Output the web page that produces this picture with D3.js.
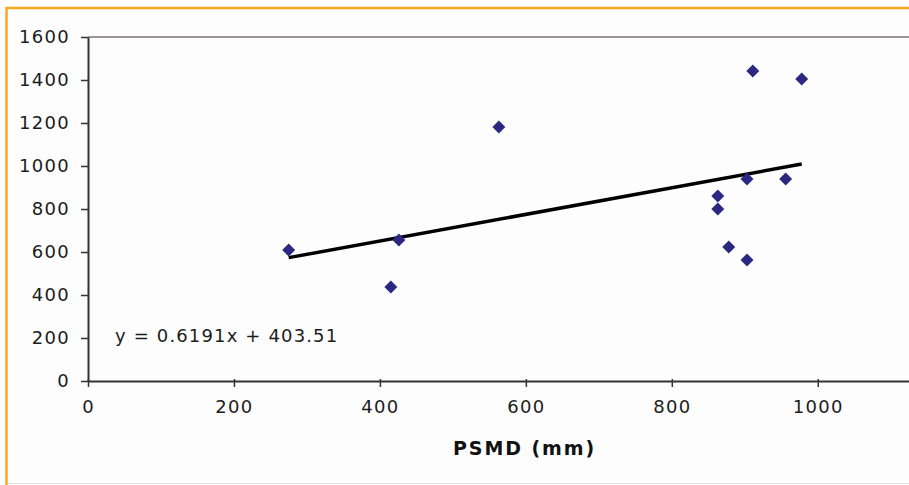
<!DOCTYPE html>
<html>
  <head>
    <meta charset="utf-8">
    <title>PSMD scatter</title>
    <script src="https://d3js.org/d3.v7.min.js"></script>
    <style>
      body { margin: 0; background: #fff; }
      svg { display: block; }
      .tick text { font-family: "DejaVu Sans", sans-serif; font-size: 18px; letter-spacing: 1.3px; fill: #1c1c1c; }
    </style>
  </head>
  <body>
    <svg id="chart" width="909" height="485"></svg>
    <script>
      // data
      var psmd = [275, 426, 415, 563, 911, 978, 903, 956, 863, 863, 878, 903];
      var yield_ = [609, 656, 437, 1181, 1442, 1405, 940, 940, 860, 800, 623, 563];
      var xTicks = [0, 200, 400, 600, 800, 1000];
      var yTicks = [0, 200, 400, 600, 800, 1000, 1200, 1400, 1600];
      var slope = 0.6191, intercept = 403.51;
      var equation = "y = 0.6191x + 403.51";
      var xLabel = "PSMD (mm)";

      var svg = d3.select("#chart");
      var plotLeft = 88, plotTop = 37, plotBottom = 381, plotRight = 909;

      // frame
      svg.append("rect")
        .attr("x", 7).attr("y", 8).attr("width", 920).attr("height", 475)
        .attr("fill", "#fdfdfd").attr("stroke", "none");
      svg.append("line")
        .attr("x1", 6.5).attr("x2", 6.5).attr("y1", 7).attr("y2", 485)
        .attr("stroke", "#f7a823").attr("stroke-width", 2.5);
      svg.append("line")
        .attr("x1", 6).attr("x2", 909).attr("y1", 8).attr("y2", 8)
        .attr("stroke", "#f7a823").attr("stroke-width", 2.5);
      svg.append("line")
        .attr("x1", 8).attr("x2", 909).attr("y1", 483.5).attr("y2", 483.5)
        .attr("stroke", "#e4e4e4").attr("stroke-width", 1);

      var x = d3.scaleLinear().domain([0, 1125]).range([plotLeft, plotRight]);
      var y = d3.scaleLinear().domain([0, 1600]).range([plotBottom, plotTop]);

      // top gridline
      svg.append("line")
        .attr("x1", plotLeft).attr("x2", plotRight)
        .attr("y1", y(1600)).attr("y2", y(1600))
        .attr("stroke", "#9a9696").attr("stroke-width", 2);

      var xAxis = svg.append("g")
        .attr("transform", "translate(0," + plotBottom + ")")
        .call(d3.axisBottom(x).tickValues(xTicks).tickFormat(d3.format("d"))
          .tickSize(6).tickPadding(13).tickSizeOuter(0));
      xAxis.select(".domain").attr("stroke", "#333").attr("stroke-width", 2);
      xAxis.selectAll(".tick line").attr("stroke", "#333").attr("stroke-width", 1.5).attr("y1", -2);

      var yAxis = svg.append("g")
        .attr("transform", "translate(" + plotLeft + ",0)")
        .call(d3.axisLeft(y).tickValues(yTicks).tickFormat(d3.format("d"))
          .tickSize(7).tickPadding(11).tickSizeOuter(0));
      yAxis.select(".domain").attr("stroke", "#333").attr("stroke-width", 2);
      yAxis.selectAll(".tick line").attr("stroke", "#333").attr("stroke-width", 1.5);

      // trendline
      var xMin = d3.min(psmd), xMax = d3.max(psmd);
      svg.append("line")
        .attr("x1", x(xMin)).attr("y1", y(slope * xMin + intercept))
        .attr("x2", x(xMax)).attr("y2", y(slope * xMax + intercept))
        .attr("stroke", "#000").attr("stroke-width", 3.5);

      // points
      var diamond = d3.symbol().type(d3.symbolSquare).size(84);
      svg.append("g")
        .selectAll("path")
          .data(psmd)
        .enter().append("path")
          .attr("d", diamond)
          .attr("fill", "#2a2880")
          .attr("transform", function(d, i) {
            return "translate(" + x(d) + "," + y(yield_[i]) + ") rotate(45)";
          });

      svg.append("text")
        .attr("x", 115).attr("y", 342)
        .attr("font-family", "DejaVu Sans, sans-serif")
        .attr("font-size", 18)
        .attr("letter-spacing", 1.15)
        .attr("fill", "#1c1c1c")
        .text(equation);

      svg.append("text")
        .attr("x", 453).attr("y", 455)
        .attr("font-family", "DejaVu Sans, sans-serif")
        .attr("font-size", 19)
        .attr("font-weight", "bold")
        .attr("letter-spacing", 1.9)
        .attr("fill", "#111")
        .text(xLabel);
    </script>
  </body>
</html>
